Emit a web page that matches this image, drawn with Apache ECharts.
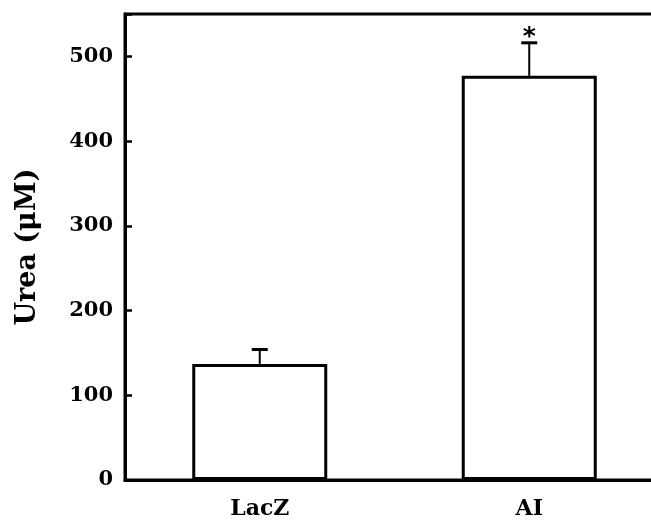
<!DOCTYPE html>
<html>
<head>
<meta charset="utf-8">
<script src="https://cdn.jsdelivr.net/npm/echarts@6/dist/echarts.min.js"></script>
<style>html,body{margin:0;padding:0;background:#fff}#c{width:651px;height:521px}</style>
</head>
<body>
<div id="c"></div>
<script>
const categories = ['LacZ', 'AI'];
const means = [137, 477];
const errUpper = [154, 516];
const marks = ['', '*'];
const yMin = 0, yMax = 550, yStep = 100;
const yTitle = 'Urea (\u03bcM)';

const FONT = '"DejaVu Serif", serif';
const chart = echarts.init(document.getElementById('c'));
const errData = categories.map((c, i) => [i, means[i], errUpper[i], marks[i]]);

chart.setOption({
  animation: false,
  backgroundColor: '#fff',
  grid: { left: 125, top: 14, bottom: 41, right: -13, outerBoundsMode: 'none', containLabel: false,
    show: true, borderColor: '#000', borderWidth: 3 },
  xAxis: {
    type: 'category', data: categories,
    axisLine: { lineStyle: { color: '#000', width: 3 } },
    axisTick: { show: false },
    axisLabel: { color: '#000', fontFamily: FONT, fontWeight: 'bold', fontSize: 22, margin: 18 }
  },
  yAxis: {
    type: 'value', min: yMin, max: yMax, interval: yStep,
    name: yTitle, nameLocation: 'middle', nameGap: 84,
    nameTextStyle: { color: '#000', fontFamily: FONT, fontWeight: 'bold', fontSize: 27 },
    axisLine: { show: true, lineStyle: { color: '#000', width: 3 } },
    axisTick: { show: true, inside: true, length: 7, lineStyle: { color: '#000', width: 2.5 } },
    splitLine: { show: false },
    axisLabel: { color: '#000', fontFamily: FONT, fontWeight: 'bold', fontSize: 21, margin: 12,
      formatter: v => (v % yStep === 0 ? String(v) : '') }
  },
  series: [
    {
      type: 'bar', data: means, barWidth: 135,
      itemStyle: { color: '#fff', borderColor: '#000', borderWidth: 3 }
    },
    {
      type: 'custom', data: errData, z: 5,
      renderItem: function (params, api) {
        const x = api.value(0);
        const top = api.coord([x, api.value(1)]);
        const up = api.coord([x, api.value(2)]);
        const cx = top[0];
        const children = [
          { type: 'line', shape: { x1: cx, y1: top[1], x2: cx, y2: up[1] }, style: { stroke: '#000', lineWidth: 2 } },
          { type: 'line', shape: { x1: cx - 8, y1: up[1], x2: cx + 8, y2: up[1] }, style: { stroke: '#000', lineWidth: 3 } }
        ];
        const m = marks[params.dataIndex];
        if (m) {
          children.push({ type: 'text', x: cx, y: up[1] + 7,
            style: { text: m, fill: '#000', font: 'bold 25px "DejaVu Sans"', align: 'center', verticalAlign: 'bottom' } });
        }
        return { type: 'group', children: children };
      }
    }
  ]
});
</script>
</body>
</html>
